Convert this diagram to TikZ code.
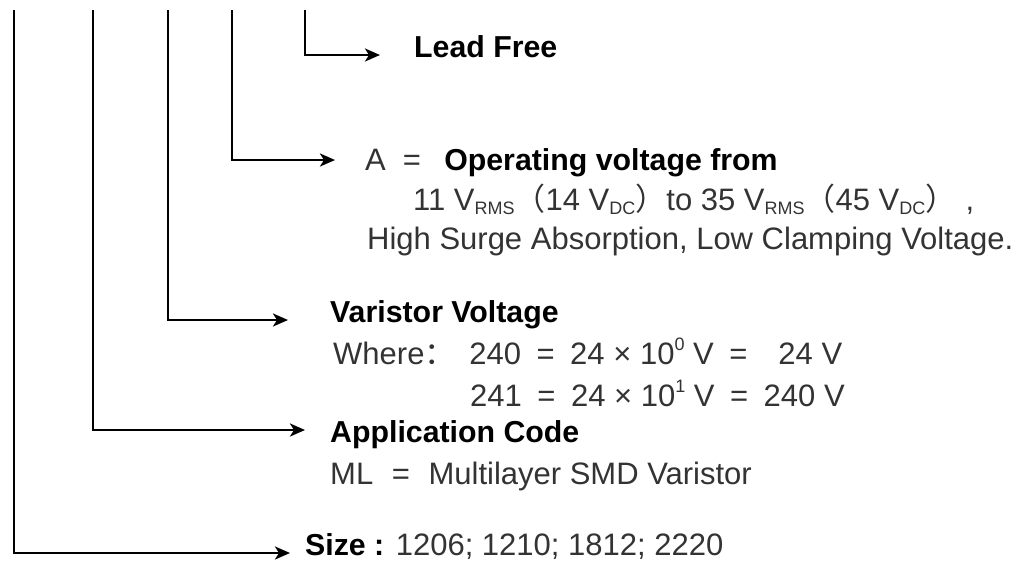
\documentclass[tikz,border=0pt]{standalone}
\usepackage{fontspec}
\setmainfont{Liberation Sans}
\newfontfamily\cjk{Noto Sans CJK SC}
\usetikzlibrary{arrows.meta}
\newcommand\mysub[1]{\raisebox{-0.3ex}{\fontsize{18}{18}\selectfont #1}}
\newcommand\mysup[1]{\raisebox{0.85ex}{\fontsize{18}{18}\selectfont #1}}
\definecolor{txt}{HTML}{333333}
\begin{document}
\begin{tikzpicture}[x=1pt,y=-1pt,
  conn/.style={line width=2.6pt,-{Stealth[length=15pt,width=13pt,inset=4pt]}},
  lbl/.style={anchor=base west,inner sep=0pt,font=\fontsize{31}{36}\selectfont,text=txt},
  hd/.style={lbl,font=\fontsize{30.3}{36}\selectfont\bfseries,text=black}]
\useasboundingbox (0,0) rectangle (1013,566);
% free starts
\coordinate (s1) at (14,10);
\coordinate (s2) at (93,10);
\coordinate (s3) at (168,10);
\coordinate (s4) at (232,10);
\coordinate (s5) at (305,10);
% texts
\node[hd] (lead) at (414,57) {Lead Free};
\node[lbl] (a1) at (365,170) {A\hspace{0.55em}=\hspace{0.75em}{\fontsize{30.3}{36}\selectfont\bfseries\color{black}Operating voltage from}};
\node[lbl] (a2) at (413,210) {11 V\mysub{RMS}{\cjk （}14 V\mysub{DC}{\cjk ）}to 35 V\mysub{RMS}{\cjk （}45 V\mysub{DC}{\cjk ）}\hspace{0.3em},};
\node[lbl] (a3) at (367,249) {High Surge Absorption, Low Clamping Voltage.};
\node[hd] (vv) at (330,322) {Varistor Voltage};
\node[lbl] (w1) at (333,364) {Where{\cjk ：}\hspace{0.45em}240\hspace{0.5em}=\hspace{0.5em}24 × 10\mysup{0} V\hspace{0.5em}=\hspace{1.0em}24 V};
\node[lbl] (w2) at (470,406) {241\hspace{0.5em}=\hspace{0.5em}24 × 10\mysup{1} V\hspace{0.5em}=\hspace{0.5em}240 V};
\node[hd] (ac) at (330,442) {Application Code};
\node[lbl] (ml) at (330,484) {ML\hspace{0.6em}=\hspace{0.6em}Multilayer SMD Varistor};
\node[lbl] (sz) at (305,555) {{\fontsize{30.3}{36}\selectfont\bfseries\color{black}Size :} 1206; 1210; 1812; 2220};
% connectors
\draw[conn] (s5) |- ([xshift=-34pt]lead.west |- 0,55);
\draw[conn] (s4) |- ([xshift=-30pt]a1.west |- 0,160);
\draw[conn] (s3) |- ([xshift=-42pt]vv.west |- 0,320);
\draw[conn] (s2) |- ([xshift=-25pt]ac.west |- 0,430);
\draw[conn] (s1) |- ([xshift=-15pt]sz.west |- 0,553);
\end{tikzpicture}
\end{document}
